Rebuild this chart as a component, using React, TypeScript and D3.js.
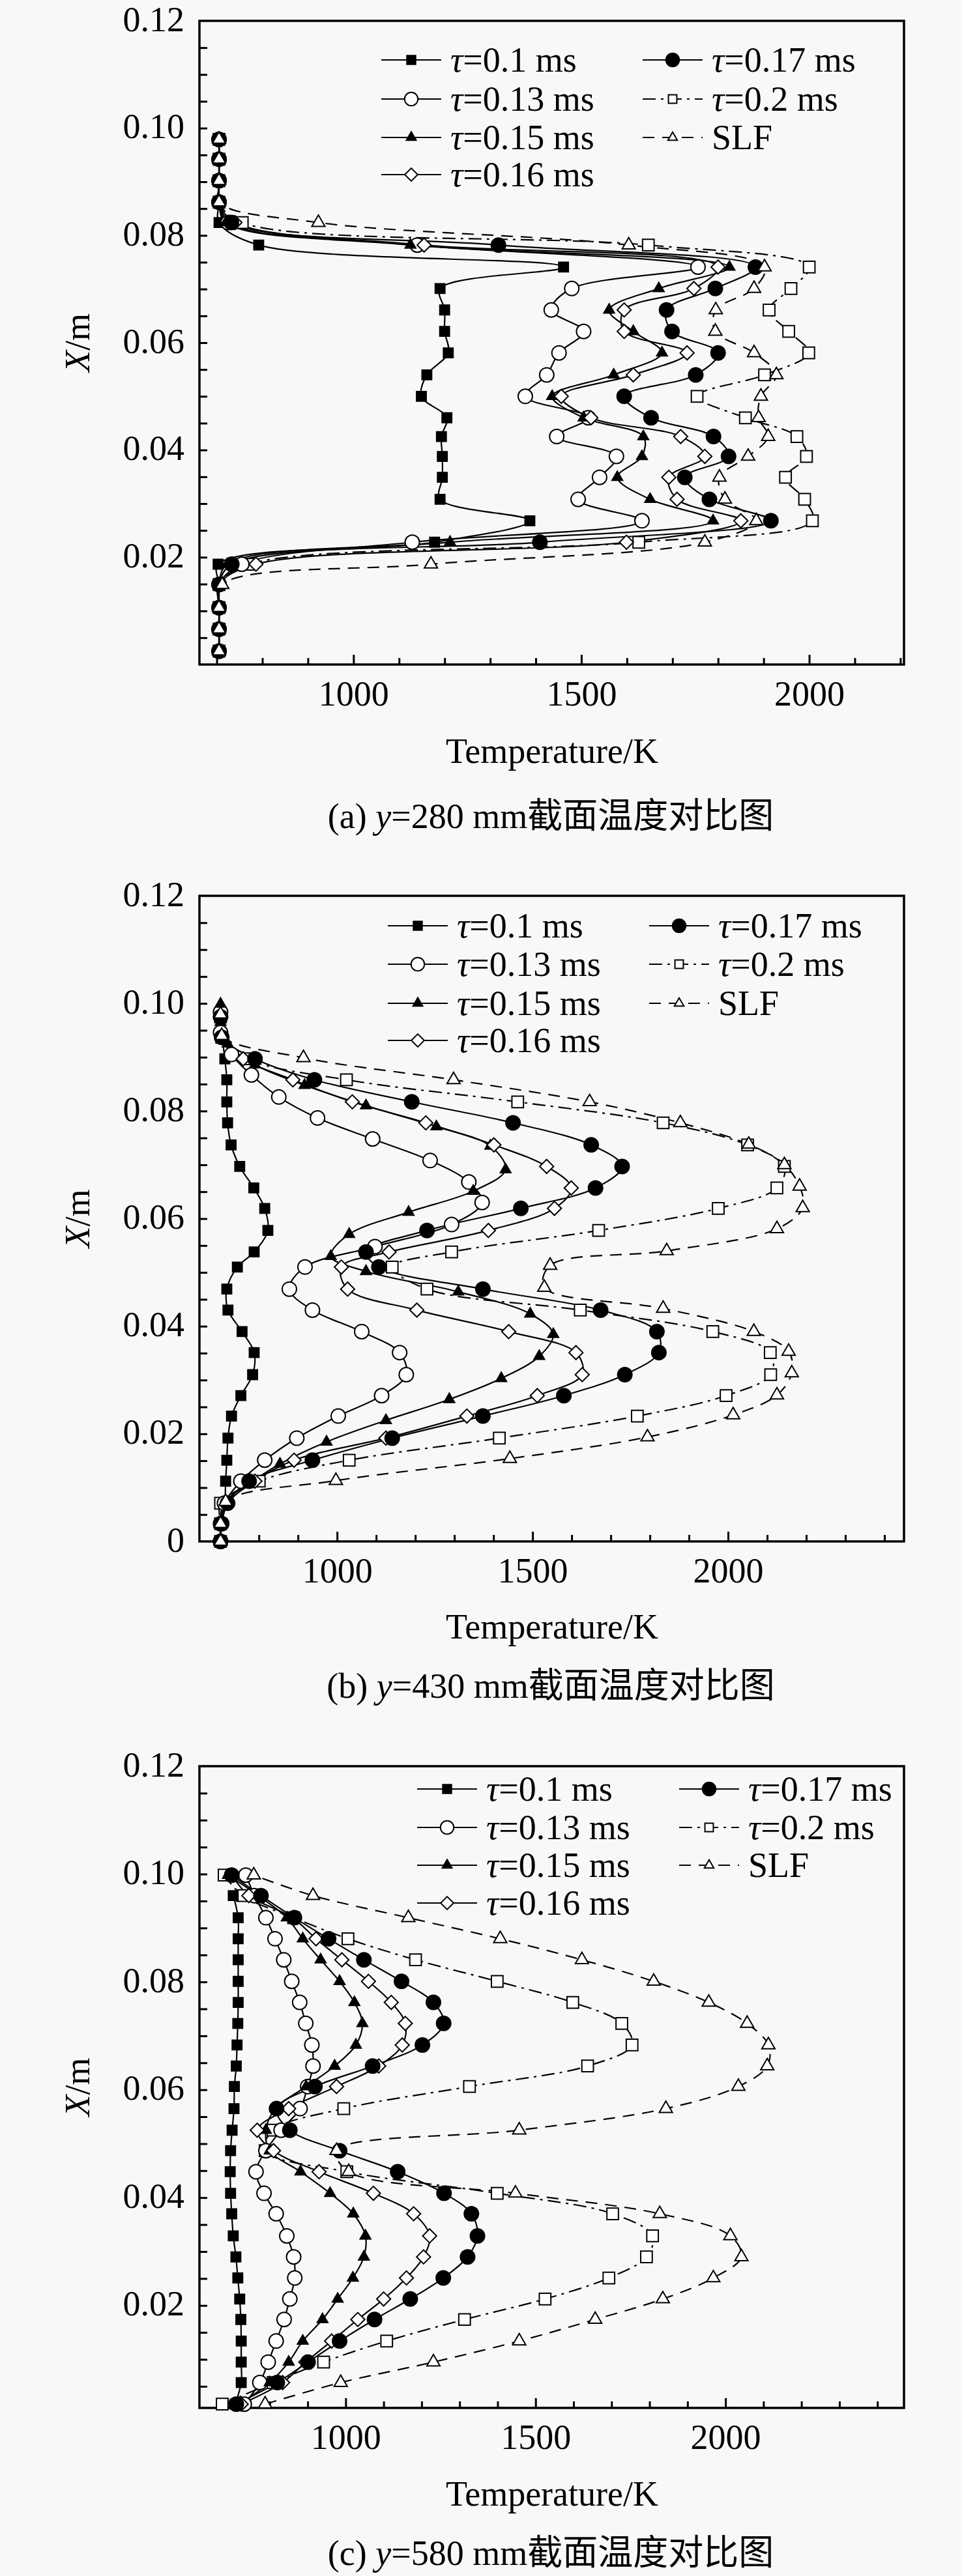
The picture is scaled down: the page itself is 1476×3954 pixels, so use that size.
import React, { useEffect, useRef } from 'react';
import * as d3 from 'd3';

const W = 1476;
const H = 3954;

const seriesLabels = ['0.1', '0.13', '0.15', '0.16', '0.17', '0.2', 'SLF'];
// marker drawing order (open squares of 0.2 ms sit under the others)
const markerOrder = [5, 0, 1, 2, 3, 4, 6];

// ---- panel (a) y=280 mm ----
const xGridA = [0.0025, 0.0066, 0.0106, 0.0149, 0.0187, 0.0228, 0.0268, 0.0308, 0.0349, 0.0388, 0.0425, 0.046, 0.05, 0.054, 0.0581, 0.0621, 0.0661, 0.0701, 0.0741, 0.0782, 0.0824, 0.0862, 0.0902, 0.0942, 0.0979];
const a010 = [705, 705, 705, 705, 703, 1178, 1387, 1190, 1195, 1195, 1193, 1205, 1149, 1161, 1208, 1200, 1200, 1190, 1461, 792, 705, 705, 705, 705, 705];
const a013 = [705, 705, 705, 705, 755, 1129, 1633, 1493, 1540, 1577, 1446, 1515, 1377, 1424, 1451, 1505, 1434, 1479, 1756, 1140, 725, 705, 705, 705, 705];
const a015 = [705, 705, 705, 705, 723, 1212, 1789, 1651, 1579, 1633, 1636, 1505, 1436, 1571, 1677, 1614, 1561, 1670, 1825, 1125, 720, 705, 705, 705, 705];
const a016 = [705, 705, 705, 705, 786, 1599, 1850, 1710, 1692, 1771, 1718, 1521, 1456, 1614, 1732, 1594, 1594, 1747, 1800, 1155, 740, 705, 705, 705, 705];
const a017 = [705, 705, 705, 705, 733, 1409, 1916, 1781, 1727, 1823, 1790, 1653, 1594, 1751, 1800, 1699, 1687, 1794, 1882, 1318, 732, 705, 705, 705, 705];
const a020 = [705, 705, 705, 705, 772, 1626, 2007, 1990, 1948, 1994, 1973, 1860, 1754, 1902, 1999, 1955, 1912, 1960, 2000, 1647, 756, 705, 705, 705, 705];
const aSLF = [705, 705, 705, 712, 1170, 1771, 1884, 1815, 1803, 1866, 1910, 1889, 1894, 1928, 1879, 1794, 1795, 1879, 1902, 1604, 923, 705, 705, 705, 705];

// ---- panel (b) y=430 mm ----
const xGridB = [0, 0.0033, 0.0071, 0.0112, 0.0151, 0.0192, 0.0233, 0.0271, 0.031, 0.0351, 0.039, 0.043, 0.0469, 0.051, 0.0538, 0.0578, 0.0619, 0.0657, 0.0697, 0.0737, 0.0778, 0.0817, 0.0858, 0.0897, 0.0937, 0.0975];
const xGridB13 = [0, 0.0033, 0.0071, 0.0112, 0.0151, 0.0192, 0.0233, 0.0271, 0.031, 0.0351, 0.039, 0.043, 0.0469, 0.051, 0.0548, 0.0589, 0.063, 0.0668, 0.0708, 0.0748, 0.0787, 0.0826, 0.0867, 0.0905, 0.0946, 0.0984];
const xGridB15 = [0, 0.0035, 0.0074, 0.0106, 0.0144, 0.0185, 0.0225, 0.0264, 0.0303, 0.0344, 0.0385, 0.0423, 0.0464, 0.0502, 0.053, 0.0571, 0.0612, 0.0651, 0.0691, 0.0735, 0.0771, 0.081, 0.0848, 0.0886, 0.0925, 0.0965, 0.0999];
const xGridBSLF = [0, 0.0033, 0.0074, 0.0113, 0.0154, 0.0194, 0.0235, 0.0272, 0.0313, 0.0353, 0.039, 0.0433, 0.0472, 0.0513, 0.054, 0.0581, 0.062, 0.066, 0.07, 0.0738, 0.0778, 0.0817, 0.0858, 0.0899, 0.094, 0.098];
const b010 = [702, 705, 713, 715, 718, 721, 730, 754, 784, 788, 757, 721, 718, 745, 788, 823, 815, 787, 751, 729, 720, 718, 718, 713, 706, 702];
const b013 = [702, 702, 712, 754, 815, 897, 1003, 1114, 1177, 1160, 1063, 937, 878, 918, 1097, 1293, 1371, 1337, 1238, 1091, 950, 851, 781, 730, 702, 702];
const b015 = [702, 705, 715, 773, 854, 973, 1125, 1287, 1420, 1517, 1553, 1494, 1310, 1074, 984, 1031, 1183, 1348, 1431, 1392, 1254, 1074, 917, 790, 720, 702, 702];
const b016 = [702, 705, 720, 790, 890, 1125, 1332, 1512, 1627, 1611, 1439, 1204, 1027, 1011, 1133, 1387, 1556, 1599, 1536, 1401, 1227, 1039, 887, 760, 705, 702];
const b017 = [702, 705, 720, 775, 937, 1141, 1373, 1580, 1736, 1823, 1818, 1674, 1373, 1107, 1074, 1230, 1470, 1661, 1729, 1650, 1450, 1191, 942, 790, 705, 702];
const b020 = [702, 702, 702, 801, 1031, 1415, 1768, 1995, 2109, 2108, 1961, 1622, 1230, 1141, 1293, 1669, 1975, 2125, 2144, 2050, 1834, 1462, 1024, 770, 705, 702];
const bSLF = [702, 702, 715, 997, 1442, 1794, 2013, 2125, 2163, 2155, 2066, 1834, 1530, 1545, 1843, 2125, 2191, 2183, 2144, 2053, 1878, 1646, 1298, 914, 705, 702];

// ---- panel (c) y=580 mm ----
const xGridC = [0.0017, 0.0057, 0.0095, 0.0134, 0.0174, 0.0212, 0.0251, 0.029, 0.0329, 0.037, 0.0408, 0.0448, 0.0487, 0.0525, 0.0565, 0.0606, 0.0644, 0.0683, 0.0723, 0.0762, 0.0801, 0.0841, 0.088, 0.0919, 0.096, 0.0998];
const c010 = [709, 725, 725, 725, 724, 721, 716, 711, 704, 700, 697, 696, 697, 701, 706, 707, 712, 714, 716, 717, 717, 717, 717, 717, 704, null];
const c013 = [733, 774, 796, 817, 838, 853, 866, 863, 845, 817, 785, 764, 790, 830, 880, 900, 914, 911, 895, 879, 858, 837, 814, 790, 760, 737];
const c015 = [720, 800, 850, 887, 939, 979, 1019, 1048, 1052, 1020, 959, 881, 800, 790, 815, 896, 971, 1027, 1044, 1023, 984, 934, 887, 845, 770, 690];
const c016 = [725, 834, 895, 963, 1032, 1100, 1160, 1205, 1221, 1179, 1073, 930, 810, 767, 850, 976, 1087, 1149, 1157, 1120, 1060, 990, 922, 860, 745, 700];
const c017 = [712, 820, 901, 984, 1076, 1170, 1257, 1321, 1347, 1331, 1259, 1137, 984, 853, 818, 919, 1071, 1202, 1258, 1231, 1147, 1048, 955, 865, 777, 700];
const c020 = [675, 809, 942, 1108, 1313, 1525, 1693, 1792, 1808, 1703, 1399, 1003, 788, 809, 995, 1326, 1637, 1754, 1727, 1598, 1399, 1184, 1006, 863, 729, 680];
const cSLF = [788, 987, 1231, 1457, 1657, 1835, 1968, 2042, 2013, 1827, 1447, 1008, 976, 1457, 1843, 2034, 2110, 2113, 2057, 1956, 1811, 1622, 1407, 1165, 914, 758];

const yLabelsA = [0.02, 0.04, 0.06, 0.08, 0.1, 0.12];
const yLabelsB = [0, 0.02, 0.04, 0.06, 0.08, 0.1, 0.12];
const xLabels = [1000, 1500, 2000];

const panels = [
  {
    tag: 'a', yPos: '280', top: 32, bottom: 1020, xDomain: [662, 2208], yDomain: [0, 0.12], yLabels: yLabelsA,
    series: [[xGridA, a010], [xGridA, a013], [xGridA, a015], [xGridA, a016], [xGridA, a017], [xGridA, a020], [xGridA, aSLF]],
    legX: [585, 986], legY: [92, 152, 211, 268], titleY: 1152, captionY: 1252,
  },
  {
    tag: 'b', yPos: '430', top: 1375, bottom: 2366, xDomain: [648, 2450], yDomain: [0, 0.12], yLabels: yLabelsB,
    series: [[xGridB, b010], [xGridB13, b013], [xGridB15, b015], [xGridB, b016], [xGridB, b017], [xGridB, b020], [xGridBSLF, bSLF]],
    legX: [595, 996], legY: [1421, 1480, 1540, 1597], titleY: 2496, captionY: 2587,
  },
  {
    tag: 'c', yPos: '580', top: 2711, bottom: 3696, xDomain: [615, 2470], yDomain: [0.001, 0.12], yLabels: yLabelsA,
    series: [[xGridC, c010], [xGridC, c013], [xGridC, c015], [xGridC, c016], [xGridC, c017], [xGridC, c020], [xGridC, cSLF]],
    legX: [640, 1042], legY: [2746, 2805, 2863, 2921], titleY: 3827, captionY: 3918,
  },
];

const styles = [
  { sym: d3.symbolSquare2, size: 280, legSize: 230, fill: '#000', dash: null },
  { sym: d3.symbolCircle, size: 380, legSize: 330, fill: '#fff', dash: null },
  { sym: d3.symbolTriangle2, size: 190, legSize: 160, fill: '#000', dash: null },
  { sym: d3.symbolDiamond2, size: 290, legSize: 250, fill: '#fff', dash: null },
  { sym: d3.symbolCircle, size: 380, legSize: 330, fill: '#000', dash: null },
  { sym: d3.symbolSquare2, size: 400, legSize: 210, fill: '#fff', dash: '20,8,4,8' },
  { sym: d3.symbolTriangle2, size: 290, legSize: 150, fill: '#fff', dash: '18,12' },
];

const FONT = "'Liberation Serif', 'Times New Roman', 'Noto Sans CJK SC', serif";
const FS = 54;
const LEFT = 306;
const RIGHT = 1387;

const App = () => {
  const ref = useRef(null);

  useEffect(() => {
    document.body.style.margin = '0';
    const svg = d3.select(ref.current);
    svg.selectAll('*').remove();
    svg.append('rect').attr('width', W).attr('height', H).attr('fill', '#f8f8f8');

    panels.forEach(p => {
      const g = svg.append('g').attr('font-family', FONT).attr('font-size', FS);
      const x = d3.scaleLinear().domain(p.xDomain).range([LEFT, RIGHT]);
      const y = d3.scaleLinear().domain(p.yDomain).range([p.bottom, p.top]);

      // x minor ticks
      const xTicks = d3.range(Math.ceil(p.xDomain[0] / 100) * 100, p.xDomain[1], 100);
      g.append('g')
        .attr('transform', `translate(0,${p.bottom})`)
        .call(d3.axisBottom(x).tickValues(xTicks.filter(t => t % 500 !== 0)).tickSize(-10).tickFormat(() => ''))
        .call(a => a.select('.domain').remove())
        .call(a => a.selectAll('line').attr('stroke-width', 3));
      // x major ticks with labels
      g.append('g')
        .attr('transform', `translate(0,${p.bottom})`)
        .call(d3.axisBottom(x).tickValues(xLabels).tickSize(-15).tickPadding(25).tickFormat(d3.format('d')))
        .call(a => a.select('.domain').remove())
        .call(a => a.selectAll('line').attr('stroke-width', 3))
        .call(a => a.selectAll('text').attr('font-size', FS).attr('font-family', FONT).attr('fill', '#000'));

      // y ticks every 0.005
      const yTicks = d3.range(1, 24).map(i => i * 0.005);
      g.append('g')
        .attr('transform', `translate(${LEFT},0)`)
        .call(d3.axisLeft(y).tickValues(yTicks).tickSize(-12).tickFormat(() => ''))
        .call(a => a.select('.domain').remove())
        .call(a => a.selectAll('line').attr('stroke-width', 3));
      g.append('g')
        .attr('transform', `translate(${LEFT},0)`)
        .call(d3.axisLeft(y).tickValues(p.yLabels).tickSize(0).tickPadding(23)
          .tickFormat(d => (d === 0 ? '0' : d3.format('.2f')(d))))
        .call(a => a.select('.domain').remove())
        .call(a => a.selectAll('text').attr('font-size', FS).attr('font-family', FONT).attr('fill', '#000').attr('dy', '0.28em'));

      // frame
      g.append('rect')
        .attr('x', LEFT).attr('y', p.top)
        .attr('width', RIGHT - LEFT).attr('height', p.bottom - p.top)
        .attr('fill', 'none').attr('stroke', '#000').attr('stroke-width', 3.5);

      // series
      const line = d3.line<any>()
        .x(d => x(d[1]))
        .y(d => y(d[0]))
        .curve(d3.curveCatmullRom.alpha(0.5));

      const points = p.series.map(([xs, ts]) => xs.map((v, k) => [v, ts[k]]).filter(d => d[1] != null));

      points.forEach((pts, i) => {
        g.append('path')
          .attr('d', line(pts))
          .attr('fill', 'none')
          .attr('stroke', '#000')
          .attr('stroke-width', 2.2)
          .attr('stroke-dasharray', styles[i].dash);
      });
      markerOrder.forEach(i => {
        const st = styles[i];
        g.append('g').selectAll('path')
          .data(points[i])
          .enter().append('path')
          .attr('transform', d => `translate(${x(d[1])},${y(d[0])})`)
          .attr('d', d3.symbol().type(st.sym).size(st.size)())
          .attr('fill', st.fill)
          .attr('stroke', '#000')
          .attr('stroke-width', 2);
      });

      // legend
      seriesLabels.forEach((lab, i) => {
        const st = styles[i];
        const col = i < 4 ? 0 : 1;
        const x0 = p.legX[col];
        const yy = p.legY[col === 0 ? i : i - 4];
        g.append('line')
          .attr('x1', x0).attr('x2', x0 + 92).attr('y1', yy).attr('y2', yy)
          .attr('stroke', '#000').attr('stroke-width', 2.2)
          .attr('stroke-dasharray', st.dash);
        g.append('path')
          .attr('transform', `translate(${x0 + 46},${yy})`)
          .attr('d', d3.symbol().type(st.sym).size(st.legSize)())
          .attr('fill', st.fill).attr('stroke', '#000').attr('stroke-width', 2);
        const t = g.append('text').attr('x', x0 + 106).attr('y', yy).attr('dy', '0.33em');
        if (lab === 'SLF') {
          t.text('SLF');
        } else {
          t.append('tspan').attr('font-style', 'italic').text('τ');
          t.append('tspan').text(`=${lab} ms`);
        }
      });

      // axis titles
      g.append('text')
        .attr('x', 847).attr('y', p.titleY).attr('dy', '0.35em')
        .attr('text-anchor', 'middle')
        .text('Temperature/K');
      const yl = g.append('text')
        .attr('transform', `translate(118,${(p.top + p.bottom) / 2}) rotate(-90)`)
        .attr('dy', '0.35em')
        .attr('text-anchor', 'middle');
      yl.append('tspan').attr('font-style', 'italic').text('X');
      yl.append('tspan').text('/m');

      // caption
      const cap = g.append('text')
        .attr('x', 845).attr('y', p.captionY).attr('dy', '0.36em')
        .attr('text-anchor', 'middle');
      cap.append('tspan').text(`(${p.tag}) `);
      cap.append('tspan').attr('font-style', 'italic').text('y');
      cap.append('tspan').text(`=${p.yPos} mm截面温度对比图`);
    });
  }, []);

  return <svg ref={ref} width={W} height={H} style={{ display: 'block' }} />;
};

export default App;
